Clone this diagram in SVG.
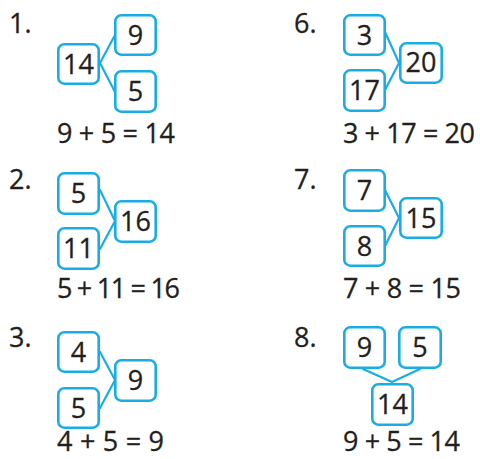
<svg xmlns="http://www.w3.org/2000/svg" width="480" height="459" viewBox="0 0 480 459">
<style>
.b{fill:#fff;stroke:#1AADE5;stroke-width:2.6}
.l{stroke:#1AADE5;stroke-width:2.2;fill:none;stroke-linecap:round}
text{font-family:"Open Sans","DejaVu Sans",sans-serif;font-size:27px;fill:#231F20;stroke:#231F20;stroke-width:0.3}
.c{text-anchor:middle}
</style>
<rect width="480" height="459" fill="#fff"/>
<g id="connectors">
<path class="l" d="M100 63 L115 35 M100 63 L115 92"/>
<path class="l" d="M385 32 L399 63 M385 90 L399 63"/>
<path class="l" d="M100 190 L115 221 M100 249 L115 221"/>
<path class="l" d="M385 190 L399 218 M385 246 L399 218"/>
<path class="l" d="M100 352 L115 380 M100 408 L115 380"/>
<path class="l" d="M363 369 L392 382 M420 369 L392 382"/>
</g>
<g id="p1">
<text x="9" y="33">1.</text>
<g id="n1a"><rect class="b" x="58.3" y="44.3" width="40.4" height="39.4" rx="6"/><text class="c" x="78.5" y="74">14</text></g>
<g id="n1b"><rect class="b" x="115.3" y="15.3" width="40.4" height="39.4" rx="6"/><text class="c" x="135.5" y="45">9</text></g>
<g id="n1c"><rect class="b" x="115.3" y="71.3" width="40.4" height="40.4" rx="6"/><text class="c" x="135.5" y="101">5</text></g>
<text x="57" y="143" textLength="118" lengthAdjust="spacing">9 + 5 = 14</text>
</g>
<g id="p6">
<text x="294" y="33">6.</text>
<g id="n6a"><rect class="b" x="344.3" y="15.3" width="40.4" height="39.4" rx="6"/><text class="c" x="364.5" y="45">3</text></g>
<g id="n6b"><rect class="b" x="344.3" y="70.3" width="40.4" height="40.4" rx="6"/><text class="c" x="364.5" y="100">17</text></g>
<g id="n6c"><rect class="b" x="400.3" y="43.3" width="41.4" height="39.4" rx="6"/><text class="c" x="421" y="72">20</text></g>
<text x="343" y="143" textLength="132" lengthAdjust="spacing">3 + 17 = 20</text>
</g>
<g id="p2">
<text x="9" y="189">2.</text>
<g id="n2a"><rect class="b" x="58.3" y="173.3" width="40.4" height="40.4" rx="6"/><text class="c" x="78.5" y="203">5</text></g>
<g id="n2b"><rect class="b" x="58.3" y="228.3" width="40.4" height="40.4" rx="6"/><text class="c" x="78.5" y="258">11</text></g>
<g id="n2c"><rect class="b" x="115.3" y="201.3" width="40.4" height="40.4" rx="6"/><text class="c" x="135.5" y="231">16</text></g>
<text x="57" y="298" textLength="123" lengthAdjust="spacing">5 + 11 = 16</text>
</g>
<g id="p7">
<text x="294" y="189">7.</text>
<g id="n7a"><rect class="b" x="344.3" y="170.3" width="40.4" height="40.4" rx="6"/><text class="c" x="364.5" y="200">7</text></g>
<g id="n7b"><rect class="b" x="344.3" y="226.3" width="40.4" height="39.4" rx="6"/><text class="c" x="364.5" y="256">8</text></g>
<g id="n7c"><rect class="b" x="400.3" y="198.3" width="41.4" height="39.4" rx="6"/><text class="c" x="421" y="228">15</text></g>
<text x="343" y="298" textLength="118" lengthAdjust="spacing">7 + 8 = 15</text>
</g>
<g id="p3">
<text x="9" y="347">3.</text>
<g id="n3a"><rect class="b" x="58.3" y="332.3" width="40.4" height="39.4" rx="6"/><text class="c" x="78.5" y="362">4</text></g>
<g id="n3b"><rect class="b" x="58.3" y="388.3" width="40.4" height="39.4" rx="6"/><text class="c" x="78.5" y="418">5</text></g>
<g id="n3c"><rect class="b" x="115.3" y="360.3" width="40.4" height="40.4" rx="6"/><text class="c" x="135.5" y="390">9</text></g>
<text x="57" y="451" textLength="107" lengthAdjust="spacing">4 + 5 = 9</text>
</g>
<g id="p8">
<text x="294" y="347">8.</text>
<g id="n8a"><rect class="b" x="344.3" y="327.3" width="40.4" height="40.4" rx="6"/><text class="c" x="364.5" y="357">9</text></g>
<g id="n8b"><rect class="b" x="399.3" y="327.3" width="41.4" height="40.4" rx="6"/><text class="c" x="420" y="357">5</text></g>
<g id="n8c"><rect class="b" x="372.3" y="384.3" width="40.4" height="40.4" rx="6"/><text class="c" x="392.5" y="414">14</text></g>
<text x="343" y="451" textLength="117" lengthAdjust="spacing">9 + 5 = 14</text>
</g>
</svg>
